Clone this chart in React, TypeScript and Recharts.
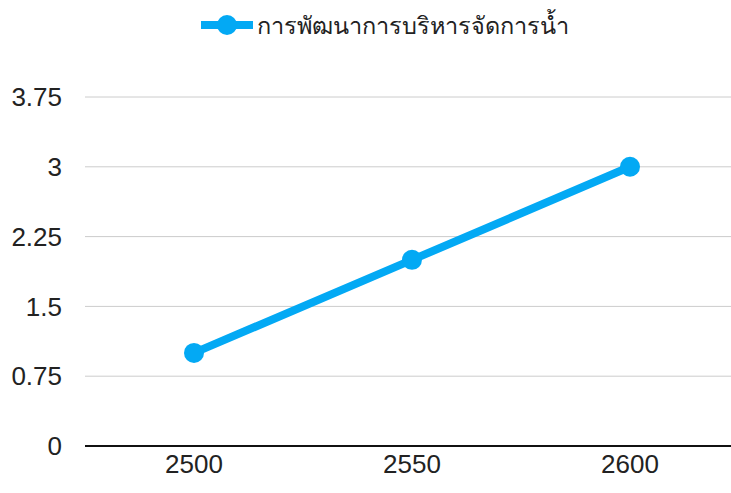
import React from "react";
import { LineChart, Line, XAxis, YAxis, CartesianGrid, Legend } from "recharts";

const years = ["2500", "2550", "2600"];
const waterValues = [1, 2, 3];
const yTicks = [0, 0.75, 1.5, 2.25, 3, 3.75];
const seriesName = "การพัฒนาการบริหารจัดการน้ำ";

const BLUE = "#03A9F4";
const FONT = "Arial, 'Liberation Sans', Tahoma, sans-serif";

const data = years.map((year, i) => ({ year, value: waterValues[i] }));

// legend: thick line with a dot, then the series name
const WaterLegend = () => (
  <div style={{ height: 50, display: "flex", alignItems: "center", justifyContent: "center", paddingLeft: 31 }}>
    <svg width={52} height={24} style={{ marginRight: 4 }}>
      <line x1={0} y1={12} x2={52} y2={12} stroke={BLUE} strokeWidth={8} />
      <circle cx={26} cy={12} r={10} fill={BLUE} />
    </svg>
    <span style={{ fontFamily: FONT, fontSize: 23.5, color: "#222" }}>{seriesName}</span>
  </div>
);

export default function App() {
  return (
    <div style={{ position: "absolute", left: 0, top: 0, width: 731, height: 493, overflow: "hidden", background: "#fff" }}>
      <LineChart width={739} height={493} data={data} margin={{ top: 47, right: 0, bottom: 0, left: 0 }}>
        <CartesianGrid vertical={false} stroke="#cccccc" strokeWidth={1} />
        <XAxis
          dataKey="year"
          height={47}
          padding={{ left: 109, right: 109 }}
          axisLine={{ stroke: "#111", strokeWidth: 2 }}
          tickLine={false}
          tickMargin={3}
          tick={{ fontSize: 26, fill: "#222", fontFamily: FONT }}
        />
        <YAxis
          width={85}
          domain={[0, 3.75]}
          ticks={yTicks}
          axisLine={false}
          tickLine={false}
          tickMargin={17}
          tick={{ fontSize: 26, fill: "#222", fontFamily: FONT }}
        />
        <Legend verticalAlign="top" align="center" content={<WaterLegend />} wrapperStyle={{ top: 0, left: 0, width: 739 }} />
        <Line
          type="linear"
          dataKey="value"
          name={seriesName}
          stroke={BLUE}
          strokeWidth={8}
          dot={{ r: 10, fill: BLUE, stroke: BLUE, strokeWidth: 0 }}
          activeDot={false}
          isAnimationActive={false}
        />
      </LineChart>
    </div>
  );
}
